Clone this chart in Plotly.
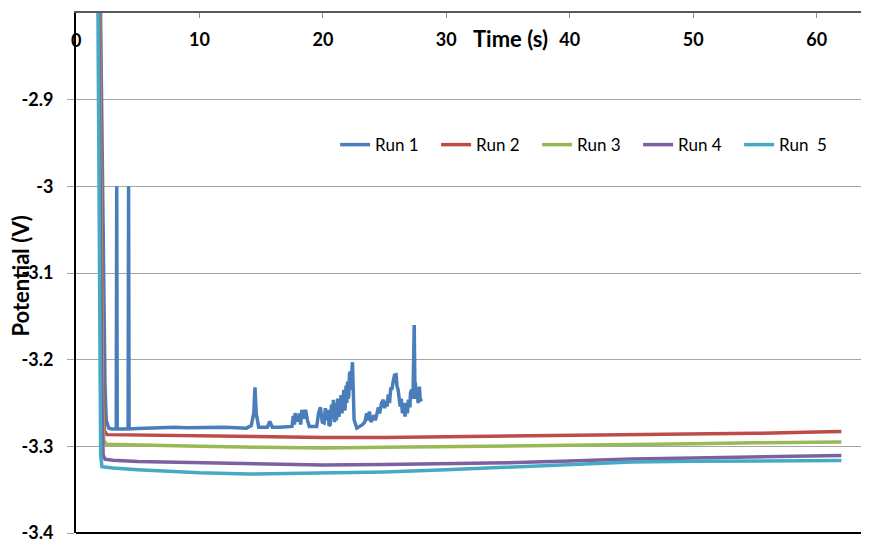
import plotly.graph_objects as go

# ---------------- data ----------------
run1_t = [1.90, 2.00, 2.20, 2.35, 2.45, 2.65, 2.90, 3.26, 3.30, 3.34, 3.60,
          4.22, 4.26, 4.30, 5.0, 6.0, 7.0, 8.0, 9.0, 10.0, 11.0, 12.0, 13.0,
          13.8, 14.2, 14.4, 14.5, 14.6, 14.8, 15.5, 15.7, 15.9, 16.5, 17.2,
          17.5, 17.6, 17.7, 17.75, 17.85, 18.0, 18.1, 18.2, 18.3, 18.45, 18.6, 18.75, 18.9,
          19.5, 19.65, 19.8, 19.95, 20.1, 20.2, 20.3, 20.4, 20.5, 20.6, 20.7, 20.78,
          20.85, 20.95, 21.05, 21.1, 21.2, 21.3, 21.4, 21.48, 21.55, 21.62, 21.7, 21.76,
          21.8, 21.88, 21.94, 22.0, 22.05, 22.1, 22.15, 22.2, 22.25, 22.32, 22.4, 22.45,
          22.53, 22.75, 23.2, 23.4, 23.55, 23.65, 23.77, 23.9, 24.0, 24.15, 24.25, 24.37,
          24.5, 24.6, 24.75, 24.9, 25.0, 25.1, 25.2, 25.3, 25.4, 25.5, 25.58, 25.7, 25.8,
          25.93, 26.0, 26.1, 26.2, 26.26, 26.35, 26.45, 26.55, 26.66, 26.75, 26.85, 26.93,
          27.05, 27.1, 27.2, 27.3, 27.4, 27.45, 27.5, 27.58, 27.65, 27.72, 27.82, 27.88,
          27.93, 28.0]
run1_v = [-2.70, -2.80, -3.05, -3.23, -3.27, -3.279, -3.280, -3.280, -3.000, -3.280, -3.280,
          -3.280, -3.000, -3.280, -3.2795, -3.279, -3.2785, -3.278, -3.2785, -3.278, -3.2778, -3.278, -3.2785,
          -3.279, -3.276, -3.262, -3.232, -3.262, -3.278, -3.278, -3.2714, -3.278, -3.278, -3.278,
          -3.277, -3.265, -3.275, -3.2617, -3.270, -3.270, -3.262, -3.275, -3.258, -3.268, -3.258, -3.270, -3.277,
          -3.277, -3.262, -3.2548, -3.272, -3.273, -3.256, -3.270, -3.258, -3.276, -3.275, -3.252, -3.268,
          -3.2464, -3.272, -3.250, -3.270, -3.245, -3.266, -3.254, -3.241, -3.262, -3.238, -3.2348, -3.258,
          -3.2568, -3.230, -3.250, -3.2252, -3.245, -3.241, -3.218, -3.2137, -3.235, -3.210, -3.2029, -3.230,
          -3.2694, -3.279, -3.275, -3.272, -3.262, -3.270, -3.2598, -3.272, -3.268, -3.264, -3.270, -3.262,
          -3.255, -3.262, -3.250, -3.2464, -3.256, -3.248, -3.254, -3.240, -3.250, -3.232, -3.2348, -3.225, -3.218,
          -3.2175, -3.230, -3.235, -3.250, -3.254, -3.245, -3.262, -3.250, -3.2656, -3.250, -3.262, -3.246,
          -3.255, -3.238, -3.2348, -3.245, -3.160, -3.225, -3.228, -3.245, -3.2387, -3.250, -3.231, -3.245,
          -3.2465, -3.248]

run2_t = [1.85, 1.95, 2.20, 2.30, 2.50, 5, 10, 15, 20, 25, 30, 35, 40, 45, 50, 55, 60, 62]
run2_v = [-2.70, -2.80, -3.24, -3.282, -3.2865, -3.2870, -3.2880, -3.2895, -3.2898, -3.2897,
          -3.2890, -3.2885, -3.2877, -3.2868, -3.2860, -3.2850, -3.2835, -3.2830]

run3_t = [1.80, 1.90, 2.15, 2.25, 2.45, 5, 10, 15, 20, 25, 30, 35, 40, 45, 50, 55, 60, 62]
run3_v = [-2.70, -2.80, -3.25, -3.293, -3.2975, -3.2985, -3.3000, -3.3012, -3.3020, -3.3012,
          -3.3005, -3.2995, -3.2982, -3.2975, -3.2970, -3.2960, -3.2952, -3.2950]

run4_t = [1.75, 1.85, 2.10, 2.20, 2.35, 3, 5, 10, 15, 20, 25, 30, 35, 40, 45, 50, 55, 60, 62]
run4_v = [-2.70, -2.80, -3.25, -3.310, -3.3148, -3.3160, -3.3175, -3.3190, -3.3205, -3.3215,
          -3.3210, -3.3205, -3.3190, -3.3170, -3.3145, -3.3135, -3.3125, -3.3110, -3.3106]

run5_t = [1.70, 1.78, 1.95, 2.00, 2.10, 3, 5, 10, 14, 20, 25, 30, 35, 40, 45, 50, 55, 60, 62]
run5_v = [-2.70, -2.80, -3.20, -3.310, -3.3235, -3.3250, -3.3270, -3.3305, -3.3320, -3.3310,
          -3.3295, -3.3270, -3.3240, -3.3205, -3.3180, -3.3172, -3.3168, -3.3165, -3.3164]

run_names = ["Run 1", "Run 2", "Run 3", "Run 4", "Run  5"]
run_colors = ["#4A7EBB", "#BE4B48", "#98B954", "#7D60A0", "#46AAC5"]

x_ticks = [0, 10, 20, 30, 40, 50, 60]
y_ticks = [-2.8, -2.9, -3.0, -3.1, -3.2, -3.3, -3.4]
y_ticklabels = ["-2.8", "-2.9", "-3", "-3.1", "-3.2", "-3.3", "-3.4"]

# ---------------- figure ----------------
series = [(run1_t, run1_v), (run2_t, run2_v), (run3_t, run3_v),
          (run4_t, run4_v), (run5_t, run5_v)]

fig = go.Figure()
for (t, v), name, col in zip(series, run_names, run_colors):
    fig.add_trace(go.Scatter(x=t, y=v, mode="lines", name=name,
                             line=dict(color=col, width=3.5)))

# the page body adds an 8 px offset, so the figure is 8 px smaller
fig.update_layout(
    width=861, height=538,
    margin=dict(l=68, r=3, t=5, b=13),
    paper_bgcolor="white", plot_bgcolor="white",
    font=dict(family="Lato, 'Open Sans', sans-serif", color="black"),
    showlegend=True,
    legend=dict(orientation="h", x=0.328, xanchor="left", y=0.746, yanchor="middle",
                font=dict(size=17, family="Lato", color="black"), bgcolor="rgba(0,0,0,0)",
                entrywidth=56, itemwidth=30, tracegroupgap=0),
)

fig.update_xaxes(
    range=[0, 64], side="top", tickvals=x_ticks,
    ticks="inside", ticklen=5, tickcolor="#8C8C8C", tickwidth=1,
    ticklabelposition="inside", ticklabelstandoff=16,
    tickfont=dict(size=18, family="Lato", weight="bold", color="black"),
    showline=True, linecolor="#595959", linewidth=2,
    showgrid=False, zeroline=False, automargin=False,
)

fig.update_yaxes(
    range=[-3.4, -2.8], tickvals=y_ticks, ticktext=y_ticklabels,
    ticks="outside", ticklen=7, tickcolor="#A6A6A6", tickwidth=1,
    tickfont=dict(size=18, family="Lato", weight="bold", color="black"),
    ticklabelstandoff=10,
    showline=True, linecolor="black", linewidth=2,
    showgrid=True, gridcolor="#A6A6A6", gridwidth=1, zeroline=False,
    automargin=False,
)

# bottom border of the plot area
fig.add_shape(type="line", xref="paper", yref="paper", x0=0, x1=1, y0=0, y1=0,
              line=dict(color="black", width=2))

# "0" tick label at the axis corner (plotly hides inside labels that overflow)
fig.add_annotation(text="<b>0</b>", xref="x", yref="paper", x=0, y=1, yshift=-27,
                   xanchor="center", yanchor="middle",
                   showarrow=False, font=dict(size=18, family="Lato", color="black"))

# x-axis title placed between the 30 and 40 tick labels
fig.add_annotation(text="<b>Time (s)</b>", xref="x", yref="y", x=35.2, y=-2.829,
                   xanchor="center", yanchor="middle",
                   showarrow=False, font=dict(size=22, family="Lato", color="black"))

# y-axis title
fig.add_annotation(text="<b>Potential (V)</b>", xref="paper", yref="paper",
                   x=-0.0696, y=0.495, textangle=-90, showarrow=False,
                   xanchor="center", yanchor="middle",
                   font=dict(size=22, family="Lato", color="black"))

fig.write_html("out.html")
